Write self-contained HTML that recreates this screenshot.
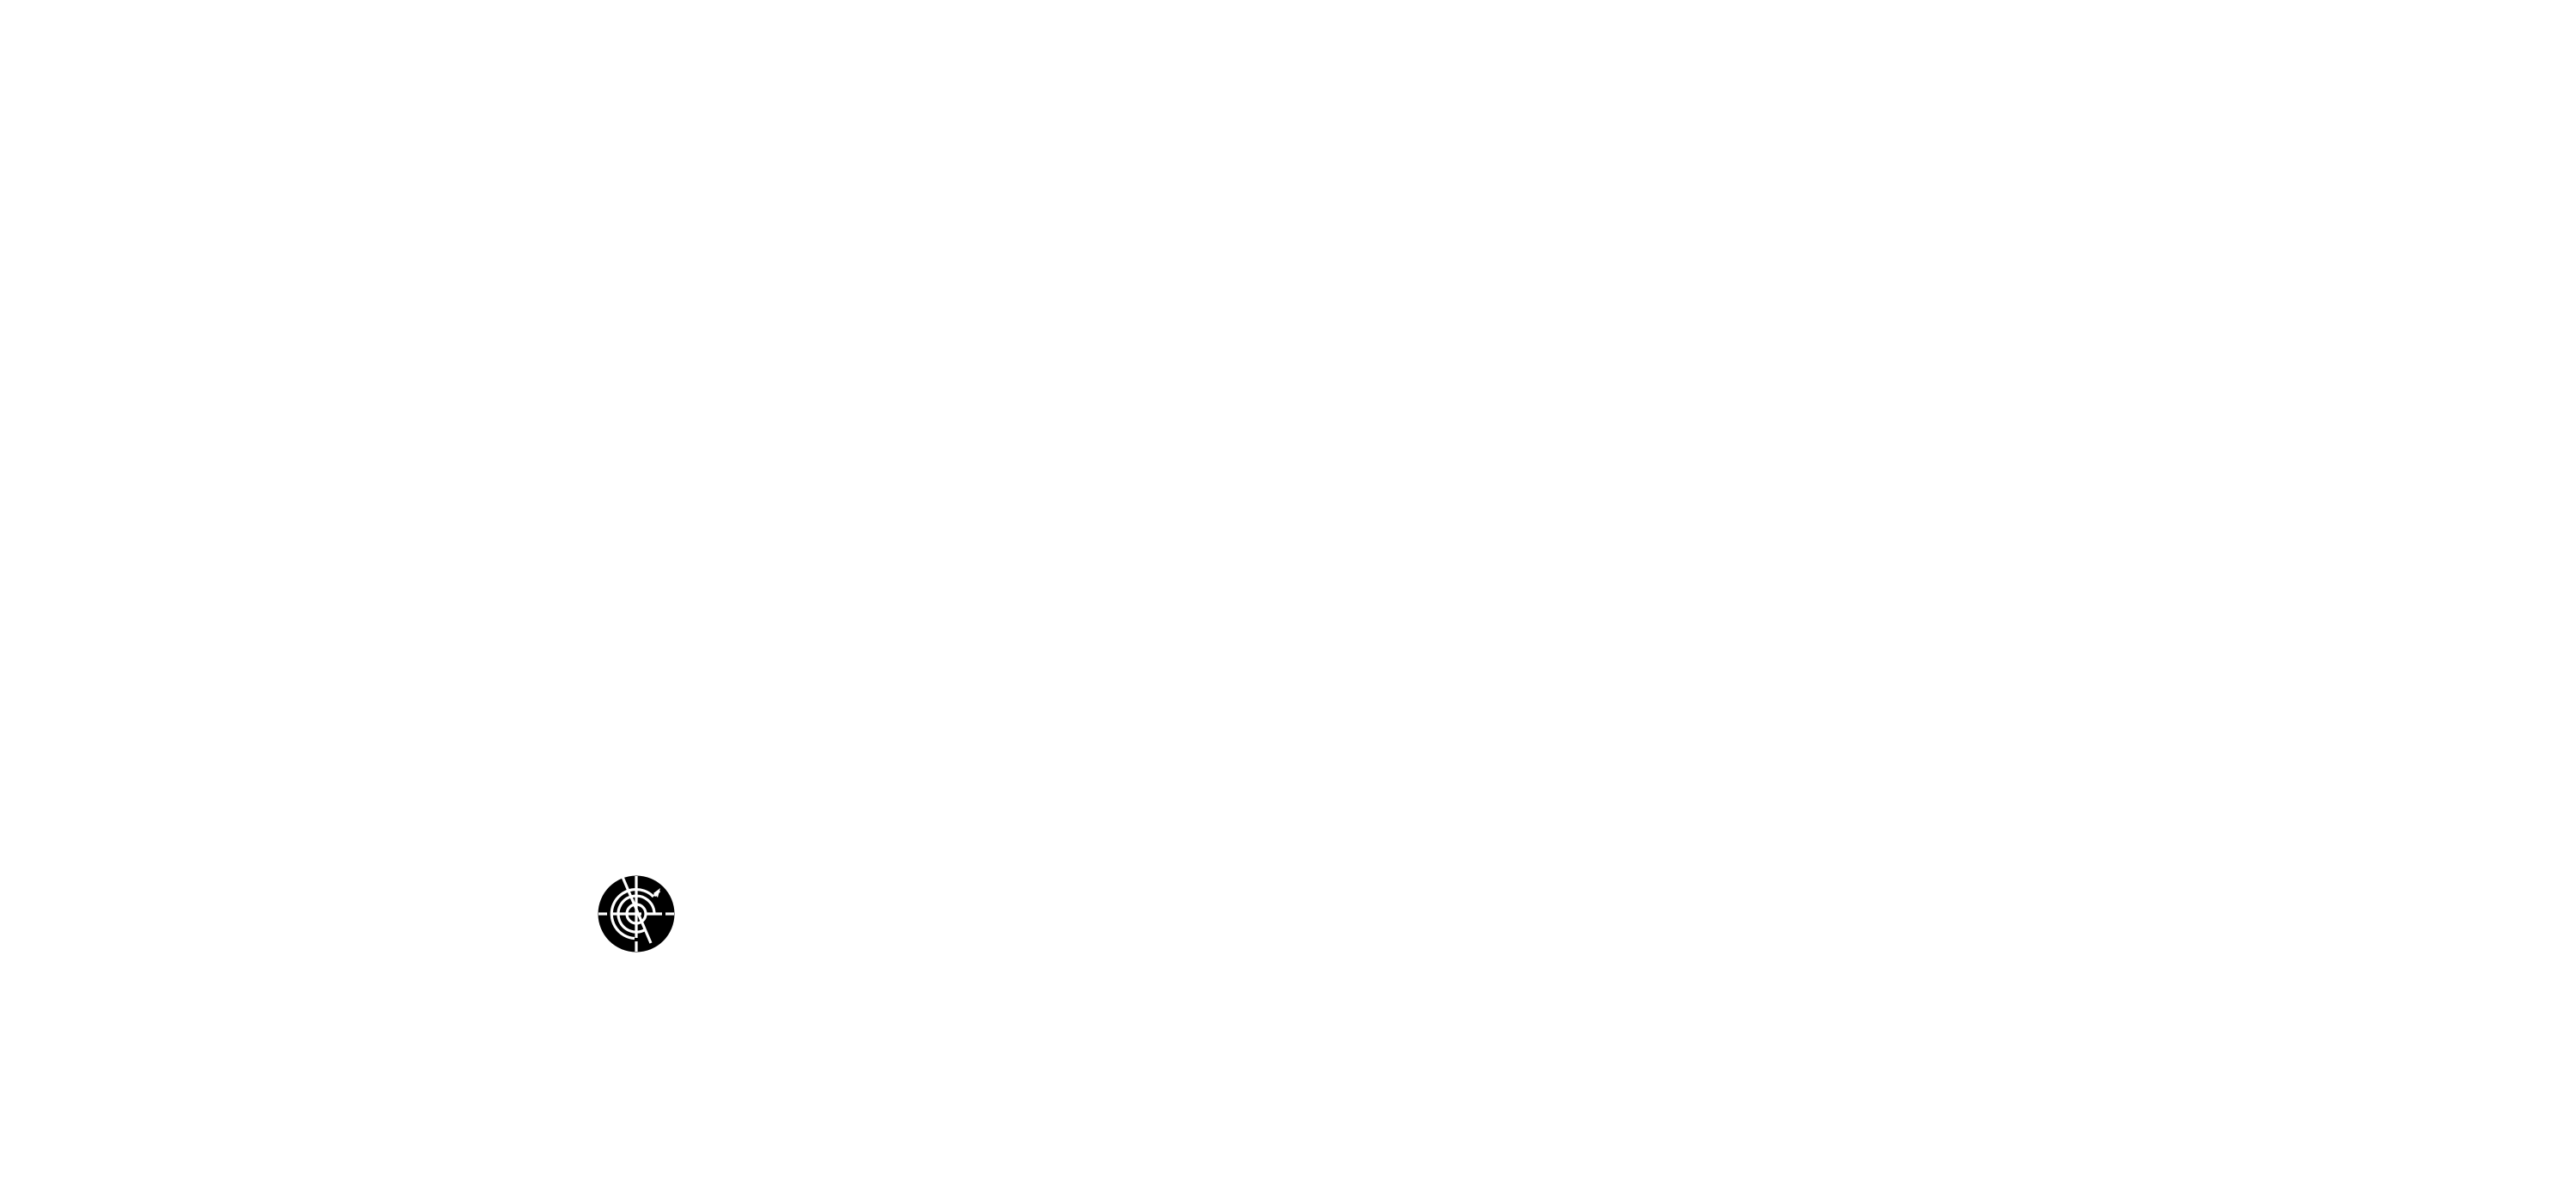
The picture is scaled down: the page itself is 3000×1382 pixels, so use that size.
<!DOCTYPE html>
<html><head><style>html,body{margin:0;padding:0;background:#fff;width:3000px;height:1382px;overflow:hidden}</style></head>
<body>
<svg width="3000" height="1382" style="position:absolute;left:0;top:0">
<g transform="translate(741,1064)">
<circle r="44.5" fill="#000"/>
<g stroke="#fff" stroke-width="3.2" fill="none">
<line x1="-44" y1="0" x2="-34" y2="0"/>
<line x1="-30" y1="0" x2="6" y2="0"/>
<line x1="10" y1="0" x2="30" y2="0"/>
<line x1="34" y1="0" x2="44" y2="0"/>
<line x1="0" y1="-44" x2="0" y2="28"/>
<line x1="0" y1="32" x2="0" y2="44"/>
<circle r="11"/>
<path d="M 21 0 A 21 21 0 1 0 11 18"/>
<path d="M 20 -20 A 28.5 28.5 0 1 0 -2 28.5"/>
<line x1="-16" y1="-43" x2="17" y2="34"/>
<line x1="21" y1="-21" x2="27" y2="-27"/>
</g>
<polygon points="28,-30 20,-24 25,-19" fill="#fff"/>
</g>
</svg>
</body></html>
